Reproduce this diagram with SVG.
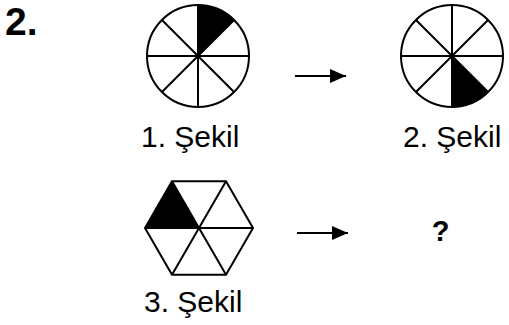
<svg xmlns="http://www.w3.org/2000/svg" width="509" height="325" viewBox="0 0 509 325">
<style>
.ln{stroke:#000;stroke-width:2;fill:none}
.sh{fill:#000;stroke:none}
.lb{font-family:"Liberation Sans",Arial,sans-serif;font-size:30px;fill:#000}
.bd{font-family:"Liberation Sans",Arial,sans-serif;font-weight:bold;fill:#000}
</style>
<defs>
<marker id="ah" markerWidth="16" markerHeight="14" refX="16" refY="7" orient="auto" markerUnits="userSpaceOnUse">
<path d="M0,0 L16,7 L0,14 Z" fill="#000"/>
</marker>
</defs>
<rect width="509" height="325" fill="#fff"/>
<text class="bd" x="5" y="35" font-size="39">2.</text>
<g id="sekil1">
<path class="sh" d="M198,56 L198,5 A51,51 0 0 1 234.06,19.94 Z"/>
<circle class="ln" cx="198" cy="56" r="51"/>
<path class="ln" d="M198,5 V107 M147,56 H249 M161.94,19.94 L234.06,92.06 M234.06,19.94 L161.94,92.06"/>
<text class="lb" x="141" y="147">1. Şekil</text>
</g>
<g id="sekil2">
<path class="sh" d="M452,56 L488.06,92.06 A51,51 0 0 1 452,107 Z"/>
<circle class="ln" cx="452" cy="56" r="51"/>
<path class="ln" d="M452,5 V107 M401,56 H503 M415.94,19.94 L488.06,92.06 M488.06,19.94 L415.94,92.06"/>
<text class="lb" x="403" y="147">2. Şekil</text>
</g>
<g id="sekil3">
<path class="sh" d="M199,228 L172,181.24 L145,228 Z"/>
<path class="ln" d="M253,228 L226,274.76 L172,274.76 L145,228 L172,181.24 L226,181.24 Z"/>
<path class="ln" d="M145,228 H253 M172,181.24 L226,274.76 M226,181.24 L172,274.76"/>
<text class="lb" x="144" y="312">3. Şekil</text>
</g>
<g id="soru">
<text class="bd" x="440.5" y="241" font-size="29" text-anchor="middle">?</text>
</g>
<g id="connectors">
<line class="ln" x1="295" y1="76" x2="346" y2="76" marker-end="url(#ah)"/>
<line class="ln" x1="297" y1="233" x2="348" y2="233" marker-end="url(#ah)"/>
</g>
</svg>
